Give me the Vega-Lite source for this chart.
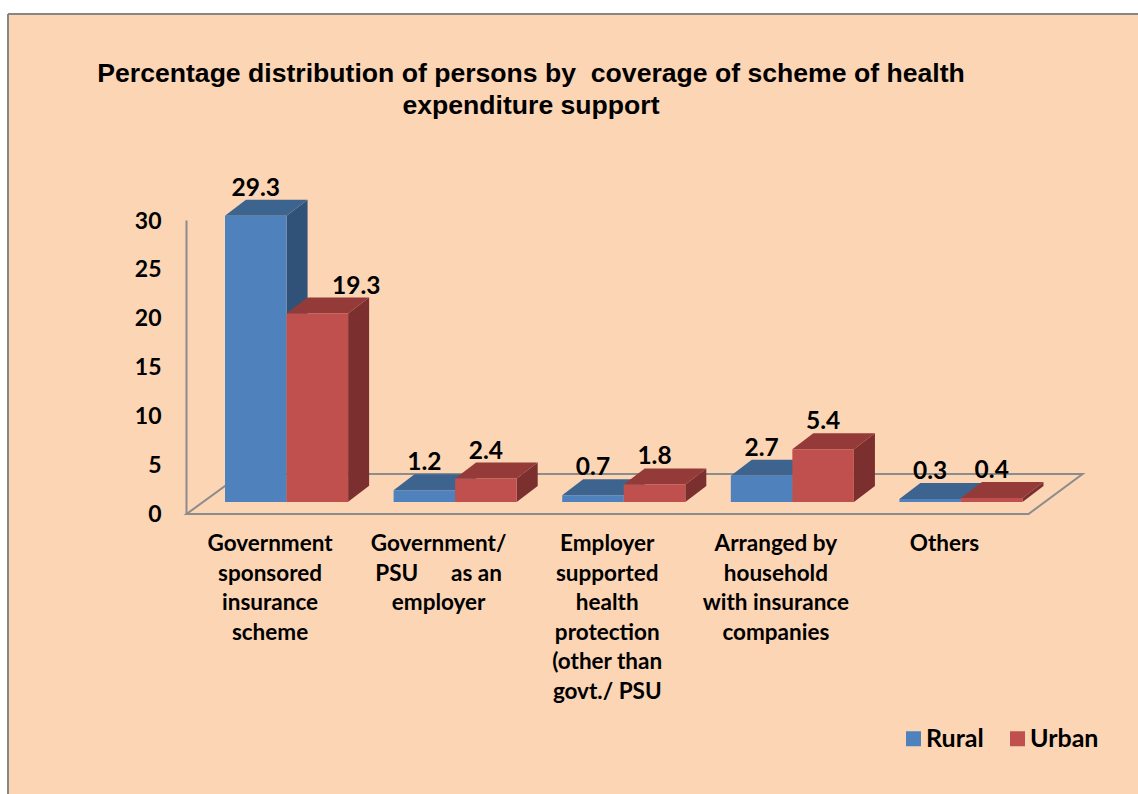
{
"$schema":"https://vega.github.io/schema/vega-lite/v6.json",
"autosize":"none",
"padding":{"left":8,"top":14,"right":0,"bottom":0},
"width":1130,"height":780,
"background":"#ffffff",
"config":{"view":{"fill":"#FCD5B5","stroke":"#868686","strokeWidth":2,"strokeDash":[1130,1910,780,0]}},
"title":{"text":["Percentage distribution of persons by \u00a0coverage of scheme of health","expenditure support"],"font":"Liberation Sans","fontSize":26.6,"fontWeight":"bold","color":"#000000","anchor":"middle","frame":"group","dx":-42,"dy":127,"lineHeight":32,"baseline":"alphabetic","offset":0},
"data":{"values":[
{"category":"Government|sponsored|insurance|scheme","series":"Rural","value":29.3},
{"category":"Government|sponsored|insurance|scheme","series":"Urban","value":19.3},
{"category":"Government/|PSU\u00a0\u00a0\u00a0\u00a0\u00a0\u00a0as an|employer","series":"Rural","value":1.2},
{"category":"Government/|PSU\u00a0\u00a0\u00a0\u00a0\u00a0\u00a0as an|employer","series":"Urban","value":2.4},
{"category":"Employer|supported|health|protection|(other than|govt./ PSU","series":"Rural","value":0.7},
{"category":"Employer|supported|health|protection|(other than|govt./ PSU","series":"Urban","value":1.8},
{"category":"Arranged by|household|with insurance|companies","series":"Rural","value":2.7},
{"category":"Arranged by|household|with insurance|companies","series":"Urban","value":5.4},
{"category":"Others","series":"Rural","value":0.3},
{"category":"Others","series":"Urban","value":0.4}
]},
"transform":[
{"calculate":"'M-30.8,0L-9.8,-16L51.8,-16L30.8,0Z'","as":"topFace"},
{"calculate":"'M30.8,0L51.8,-16L51.8,'+(datum.value*9.76-16)+'L30.8,'+(datum.value*9.76)+'Z'","as":"sideFace"}
],
"encoding":{
"x":{"field":"category","type":"nominal","sort":null,"scale":{"range":[217,1014.5],"paddingInner":0.27,"paddingOuter":0},
"axis":{"title":null,"offset":-280,"domain":false,"ticks":false,"labelAngle":0,"labelAlign":"center","labelBaseline":"top","labelOffset":-16.5,"labelPadding":18.5,"labelFont":"Lato","labelFontWeight":"bold","labelFontSize":22.5,"labelColor":"#000000","labelLineHeight":29.5,"labelLimit":0,"labelOverlap":false,"labelExpr":"split(datum.label,'|')"}},
"xOffset":{"field":"series","type":"nominal","sort":null,"scale":{"paddingInner":0,"paddingOuter":0}},
"y":{"field":"value","type":"quantitative","scale":{"domain":[0,30],"range":[499,206],"nice":false},
"axis":{"title":null,"offset":-178,"values":[0,5,10,15,20,25,30],"grid":false,"ticks":false,"domain":true,"domainColor":"#8C8C8C","domainWidth":2,"labelFont":"Lato","labelFontWeight":"bold","labelFontSize":23,"labelColor":"#000000","labelPadding":25,"labelOffset":1}}
},
"layer":[
{"transform":[{"filter":"datum.value==29.3"},{"calculate":"'M-100,1L742,1L796,-39L-45,-39Z'","as":"floor"}],
 "mark":{"type":"point","filled":false,"size":4,"opacity":1,"stroke":"#8C8C8C","strokeWidth":2},
 "encoding":{"xOffset":null,"y":{"datum":0,"type":"quantitative"},"shape":{"field":"floor","type":"nominal","scale":null,"legend":null}}},
{"mark":{"type":"point","filled":true,"size":4,"opacity":1,"yOffset":-11,"strokeWidth":0},
 "encoding":{"shape":{"field":"sideFace","type":"nominal","scale":null,"legend":null},
 "color":{"condition":{"test":"datum.series==='Rural'","value":"#315278"},"value":"#7B2F2E"}}},
{"mark":{"type":"point","filled":true,"size":4,"opacity":1,"yOffset":-11,"strokeWidth":0},
 "encoding":{"shape":{"field":"topFace","type":"nominal","scale":null,"legend":null},
 "color":{"condition":{"test":"datum.series==='Rural'","value":"#3D648F"},"value":"#943B39"}}},
{"mark":{"type":"bar","yOffset":-11,"y2Offset":-11},
 "encoding":{"y2":{"datum":0},"color":{"field":"series","type":"nominal","sort":null,"scale":{"domain":["Rural","Urban"],"range":["#4F81BD","#C0504D"]},
 "legend":{"title":null,"orient":"none","legendX":893,"legendY":712,"direction":"horizontal","columns":2,"symbolType":"square","symbolSize":225,"symbolStrokeWidth":0,"labelFont":"Lato","labelFontWeight":"bold","labelFontSize":25,"labelColor":"#000000","labelOffset":0,"columnPadding":21,"labelLimit":0}}}},
{"transform":[{"filter":"datum.value!=19.3"}],
 "mark":{"type":"text","font":"Lato","fontWeight":"bold","fontSize":24.5,"color":"#000000","baseline":"middle","dy":-38},
 "encoding":{"text":{"field":"value","type":"quantitative","format":".1f"}}},
{"transform":[{"filter":"datum.value==19.3"}],
 "mark":{"type":"text","font":"Lato","fontWeight":"bold","fontSize":24.5,"color":"#000000","baseline":"middle","dy":-38,"dx":39},
 "encoding":{"text":{"field":"value","type":"quantitative","format":".1f"}}}
]
}
